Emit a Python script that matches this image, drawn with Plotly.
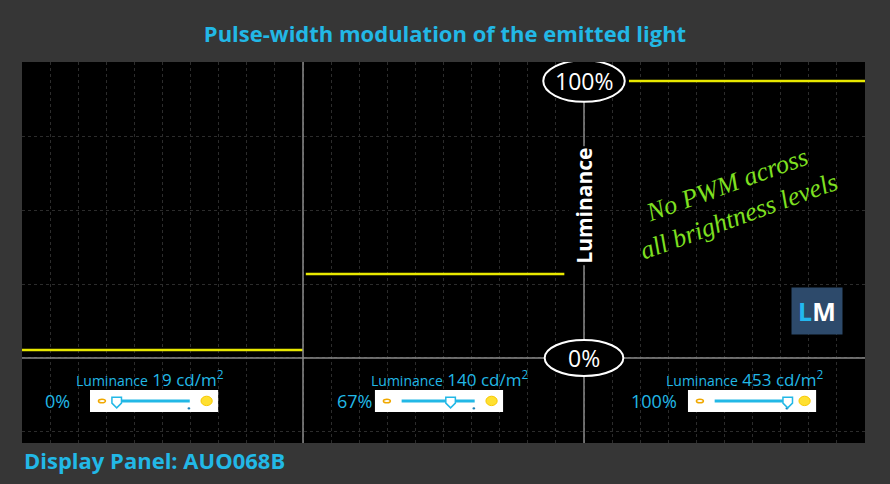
import plotly.graph_objects as go

# three brightness settings, 10 time divisions per panel
settings = ["0%", "67%", "100%"]
luminance_cd = [19, 140, 453]
levels = [2.9, 30.3, 100.0]          # trace level, % of max
seg_start = [0.0, 10.1, 21.6]
seg_end = [10.0, 19.3, 30.0]
knob_pos = [0.0, 0.67, 1.0]

cyan = "#22b8e6"
fig = go.Figure()

for i in range(3):
    fig.add_trace(go.Scatter(x=[seg_start[i], seg_end[i]], y=[levels[i], levels[i]],
                             mode="lines", line=dict(color="#e8e800", width=2.5),
                             hoverinfo="skip", showlegend=False))

shapes = []
# panel borders and zero line
for xv in [10, 20]:
    shapes.append(dict(type="line", x0=xv, x1=xv, y0=-31, y1=107,
                       line=dict(color="#8a8a8a", width=1.5)))
shapes.append(dict(type="line", x0=0, x1=30, y0=0, y1=0,
                   line=dict(color="#8a8a8a", width=1.5)))
# ellipses
shapes.append(dict(type="circle", x0=18.55, x1=21.45, y0=92.5, y1=107.5,
                   fillcolor="black", line=dict(color="white", width=2)))
shapes.append(dict(type="circle", x0=18.6, x1=21.4, y0=-6.5, y1=6.5,
                   fillcolor="black", line=dict(color="white", width=2)))

box_x0 = [2.42, 12.56, 23.7]
pct_x = [1.25, 11.85, 22.5]
lum_x = [4.55, 15.2, 25.7]
annotations = []
for i in range(3):
    bx = box_x0[i]
    w = 4.56
    shapes.append(dict(type="rect", x0=bx, x1=bx + w, y0=-19.5, y1=-11.6,
                       fillcolor="white", line=dict(width=0)))
    # small sun left, big sun right
    shapes.append(dict(type="circle", x0=bx + 0.3, x1=bx + 0.55, y0=-16.2, y1=-14.9,
                       fillcolor="white", line=dict(color="#f0a800", width=1.5)))
    shapes.append(dict(type="circle", x0=bx + 3.95, x1=bx + 4.35, y0=-17.2, y1=-13.8,
                       fillcolor="#ffe030", line=dict(color="#f8c800", width=1)))
    l0, l1 = bx + 0.95, bx + 3.55
    shapes.append(dict(type="line", x0=l0, x1=l1, y0=-15.5, y1=-15.5,
                       line=dict(color=cyan, width=3)))
    shapes.append(dict(type="circle", x0=l1 - 0.08, x1=l1 + 0.02, y0=-18.6, y1=-17.8,
                       fillcolor="#1b7fb5", line=dict(width=0)))
    k = l0 + knob_pos[i] * (l1 - l0)
    shapes.append(dict(type="path",
                       path=f"M {k-0.17},-14.2 L {k+0.17},-14.2 L {k+0.17},-16.3 L {k},-18 L {k-0.17},-16.3 Z",
                       fillcolor="white", line=dict(color=cyan, width=1.5)))
    annotations.append(dict(x=pct_x[i], y=-15.5, text=settings[i], showarrow=False,
                            font=dict(color=cyan, size=18, family="Open Sans")))
    annotations.append(dict(x=lum_x[i], y=-7.5, showarrow=False,
                            text=f"<span style='font-size:14px'>Luminance</span> {luminance_cd[i]} cd/m<sup>2</sup>",
                            font=dict(color=cyan, size=17, family="Open Sans")))

annotations += [
    dict(x=20, y=100, text="100%", showarrow=False,
         font=dict(color="white", size=23, family="Open Sans")),
    dict(x=20, y=0, text="0%", showarrow=False,
         font=dict(color="white", size=23, family="Open Sans")),
    dict(x=20, y=55, text="<b>Luminance</b>", textangle=-90, showarrow=False, bgcolor="black",
         font=dict(color="white", size=21, family="Open Sans")),
    dict(x=25.3, y=57, text="<i>No PWM across<br>all brightness levels</i>", textangle=-20,
         showarrow=False, font=dict(color="#7fe020", size=26, family="Liberation Serif")),
    dict(x=28.3, y=17, text="<b><span style='color:#22b8f0'>L</span>M</b>", showarrow=False,
         bgcolor="#2d4a6b", borderpad=6, font=dict(color="white", size=25, family="Open Sans")),
    dict(x=0.0, y=-0.045, xref="paper", yref="paper", xanchor="left", yanchor="middle",
         text="<b>Display Panel: AUO068B</b>", showarrow=False,
         font=dict(color=cyan, size=22, family="Open Sans")),
]

fig.update_layout(
    width=890, height=484,
    paper_bgcolor="#363636", plot_bgcolor="black",
    margin=dict(l=22, r=25, t=62, b=41),
    title=dict(text="<b>Pulse-width modulation of the emitted light</b>", x=0.5, xanchor="center",
               y=0.93, yanchor="middle", font=dict(color=cyan, size=22, family="Open Sans")),
    xaxis=dict(range=[0, 30], dtick=1, showgrid=True, gridcolor="#2c2c2c", griddash="dot",
               gridwidth=1, zeroline=False, showticklabels=False, ticks=""),
    yaxis=dict(range=[-30.7, 106.9], tick0=0, dtick=26.7, showgrid=True, gridcolor="#2c2c2c",
               griddash="dot", zeroline=False, showticklabels=False, ticks=""),
    shapes=shapes, annotations=annotations,
)

fig.write_html("out.html", config={"displayModeBar": False},
               post_script="document.body.style.margin='0';")
